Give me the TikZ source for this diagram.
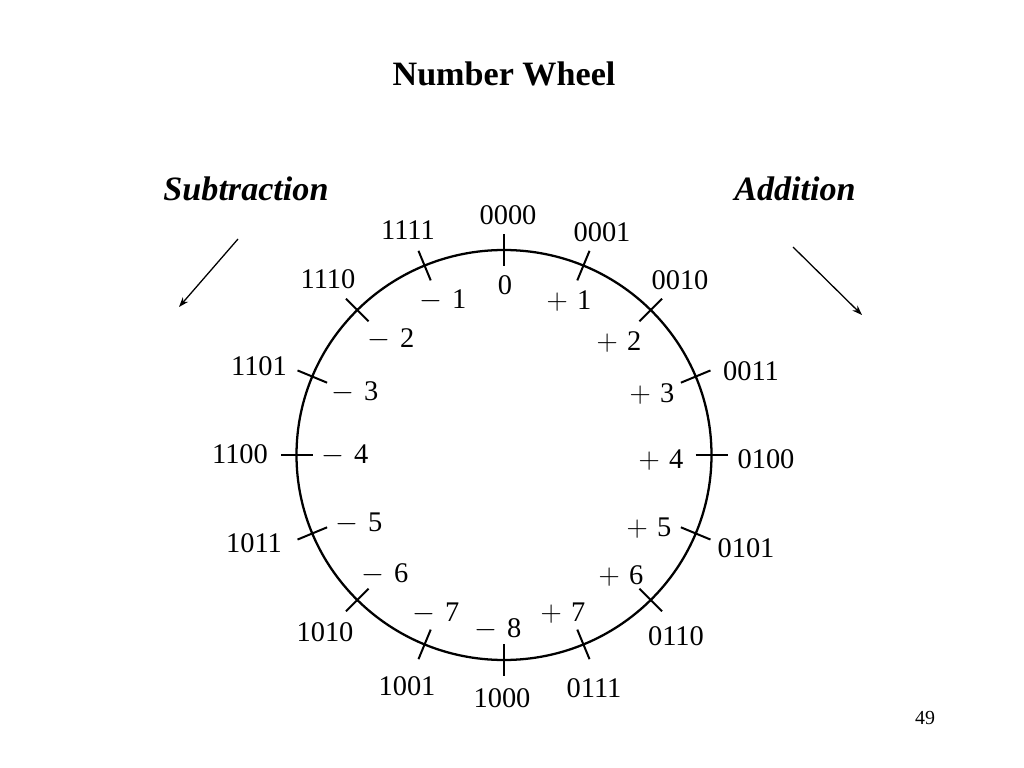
\documentclass[tikz,border=0pt]{standalone}
\usepackage{fontspec}
\setmainfont{Liberation Serif}
\usetikzlibrary{arrows.meta}
\tikzset{
  bin/.style={font=\fontsize{20}{22}\selectfont, inner sep=0pt},
  dec/.style={font=\fontsize{20}{22}\selectfont, inner sep=0pt},
  heading/.style={font=\fontsize{24}{28}\selectfont\bfseries\itshape, inner sep=0pt},
  tickline/.style={line width=1.4pt},
  wheel/.style={line width=1.6pt},
  dirarrow/.style={line width=0.9pt, -{Stealth[length=7pt,width=5pt]}}
}
\newcommand{\pl}{$+$\hspace{0.33em}}
\newcommand{\mi}{$-$\hspace{0.33em}}
\begin{document}
\begin{tikzpicture}[x=0.703125pt, y=-0.703125pt]
\useasboundingbox (0,0) rectangle (1024,768);
% title
\node[font=\fontsize{24}{28}\selectfont\bfseries, inner sep=0pt] (title) at (504,74) {Number Wheel};
\node[heading] (sub) at (246,189) {Subtraction};
\node[heading] (add) at (795,189) {Addition};
% direction arrows
\coordinate (s1) at (238,239);
\coordinate (s2) at (179,307);
\coordinate (a1) at (793,247);
\coordinate (a2) at (862,315);
\draw[dirarrow] (s1) -- (s2);
\draw[dirarrow] (a1) -- (a2);
% wheel
\coordinate (c) at (504,455);
\draw[wheel] (c) ellipse [x radius=207.5, y radius=205];
\foreach \a in {0,22.5,...,337.5}{
  \draw[tickline] ({504+(207.5-16)*sin(\a)},{455-(205-16)*cos(\a)}) -- ({504+(207.5+16)*sin(\a)},{455-(205+16)*cos(\a)});
}
% binary labels
\node[bin] (b0000) at (508,215) {0000};
\node[bin] (b0001) at (602,232) {0001};
\node[bin] (b0010) at (680,280) {0010};
\node[bin] (b0011) at (751,371) {0011};
\node[bin] (b0100) at (766,459) {0100};
\node[bin] (b0101) at (746,548) {0101};
\node[bin] (b0110) at (676,636) {0110};
\node[bin] (b0111) at (594,688) {0111};
\node[bin] (b1000) at (502,698) {1000};
\node[bin] (b1001) at (407,686) {1001};
\node[bin] (b1010) at (325,632) {1010};
\node[bin] (b1011) at (254,543) {1011};
\node[bin] (b1100) at (240,454) {1100};
\node[bin] (b1101) at (259,366) {1101};
\node[bin] (b1110) at (328,279) {1110};
\node[bin] (b1111) at (408,230) {1111};
% decimal labels
\node[dec] (d0) at (505,285) {0};
\node[dec] (dp1) at (569,301) {\pl1};
\node[dec] (dp2) at (619,342) {\pl2};
\node[dec] (dp3) at (652,394) {\pl3};
\node[dec] (dp4) at (661,460) {\pl4};
\node[dec] (dp5) at (649,528) {\pl5};
\node[dec] (dp6) at (621,576) {\pl6};
\node[dec] (dp7) at (563,613) {\pl7};
\node[dec] (dm8) at (498,629) {\mi8};
\node[dec] (dm7) at (436,613) {\mi7};
\node[dec] (dm6) at (385,574) {\mi6};
\node[dec] (dm5) at (359,523) {\mi5};
\node[dec] (dm4) at (345,455) {\mi4};
\node[dec] (dm3) at (355,392) {\mi3};
\node[dec] (dm2) at (391,339) {\mi2};
\node[dec] (dm1) at (443,300) {\mi1};
% page number
\node[font=\fontsize{14}{16}\selectfont, inner sep=0pt] (page) at (925,718) {49};
\end{tikzpicture}
\end{document}
